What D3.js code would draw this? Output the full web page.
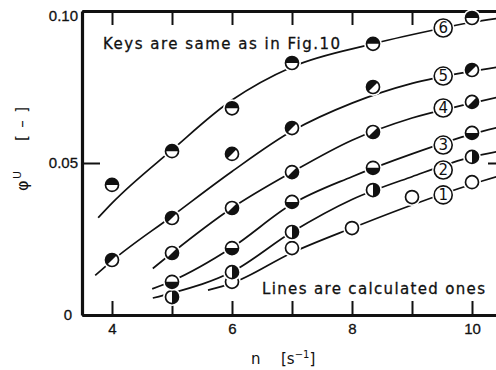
<!DOCTYPE html>
<html><head><meta charset="utf-8">
<script src="https://cdn.jsdelivr.net/npm/d3@7"></script>
<style>
html,body{margin:0;padding:0;background:#fff;}
svg{display:block;font-family:"DejaVu Sans",sans-serif;}
</style></head><body>
<svg id="chart" width="496" height="370"></svg>
<script>
// ---- axis ticks ----
const xTicks = [4, 5, 6, 7, 8, 9, 10];
const xTickLabels = ["4", "", "6", "", "8", "", "10"];
const yTicks = [0, 0.05, 0.10];
const yTickLabels = ["0", "0.05", "0.10"];

// ---- measured points, keys 1..6 ----
const s1N = [6, 7, 8, 9, 10];
const s1V = [0.0109, 0.022, 0.0286, 0.0388, 0.0437];
const s2N = [5, 6, 7, 8.35, 10];
const s2V = [0.0059, 0.0141, 0.0273, 0.0411, 0.052];
const s3N = [5, 6, 7, 8.35, 10];
const s3V = [0.0109, 0.022, 0.0372, 0.0484, 0.0599];
const s4N = [5, 6, 7, 8.35, 10];
const s4V = [0.0204, 0.0352, 0.047, 0.0602, 0.0701];
const s5N = [4, 5, 6, 7, 8.35, 10];
const s5V = [0.0181, 0.0319, 0.053, 0.0615, 0.075, 0.0806];
const s6N = [4, 5, 6, 7, 8.35, 10];
const s6V = [0.0428, 0.0539, 0.068, 0.0829, 0.0892, 0.0977];

// ---- calculated lines ----
const c1N = [5.6, 6, 7, 8, 9, 10, 10.5];
const c1V = [0.0082, 0.0105, 0.0205, 0.0286, 0.0362, 0.0430, 0.046];
const c2N = [4.68, 5, 6, 7, 8, 9, 10, 10.5];
const c2V = [0.0056, 0.0072, 0.0142, 0.0273, 0.038, 0.0455, 0.052, 0.054];
const c3N = [4.67, 5, 6, 7, 8, 9, 10, 10.5];
const c3V = [0.0086, 0.0112, 0.0222, 0.0365, 0.0455, 0.053, 0.0595, 0.062];
const c4N = [4.68, 5, 6, 7, 8, 9, 10, 10.5];
const c4V = [0.0153, 0.0204, 0.0352, 0.047, 0.0575, 0.0648, 0.0697, 0.072];
const c5N = [3.72, 4, 5, 6, 7, 8, 9, 10, 10.5];
const c5V = [0.013, 0.0178, 0.0325, 0.0472, 0.0605, 0.0697, 0.0762, 0.0802, 0.0818];
const c6N = [3.77, 4, 5, 6, 7, 8.35, 9.52, 10, 10.5];
const c6V = [0.032, 0.0368, 0.0543, 0.0707, 0.0816, 0.0892, 0.0944, 0.0963, 0.0978];

// ---- circled key numbers on the lines ----
const keyNames = ["1", "2", "3", "4", "5", "6"];
const keyN = 9.52;
const keyV = [0.0395, 0.0477, 0.0559, 0.0681, 0.0786, 0.0944];

// fill style of each key's symbol
const keyFill = ["open", "right", "bottom", "diagLR", "diagUL", "top"];

const svg = d3.select("#chart");
const x = d3.scaleLinear().domain([3.5, 10.5]).range([82, 502]);
const y = d3.scaleLinear().domain([0, 0.10]).range([315, 11]);

const ink = "#111";

// frame + ticks
const gB = svg.append("g").attr("transform", `translate(0,${y(0)})`)
  .call(d3.axisBottom(x).tickValues(xTicks).tickSizeInner(-14).tickSizeOuter(0)
    .tickPadding(8).tickFormat((d, i) => xTickLabels[i]));
const gT = svg.append("g").attr("transform", `translate(0,${y(0.10)})`)
  .call(d3.axisTop(x).tickValues(xTicks).tickSizeInner(-14).tickSizeOuter(0).tickFormat(""));
const gL = svg.append("g").attr("transform", `translate(${x(3.5)},0)`)
  .call(d3.axisLeft(y).tickValues(yTicks).tickSizeInner(-18).tickSizeOuter(0)
    .tickPadding(4).tickFormat((d, i) => yTickLabels[i]));
const gR = svg.append("g").attr("transform", `translate(${x(10.5)},0)`)
  .call(d3.axisRight(y).tickValues([0.05]).tickSizeInner(-14).tickSizeOuter(0).tickFormat(""));

[gB, gT, gL, gR].forEach(g => {
  g.select(".domain").attr("stroke", ink).attr("stroke-width", 3.2);
  g.selectAll(".tick line").attr("stroke", ink).attr("stroke-width", 2);
  g.selectAll(".tick text").attr("fill", ink).attr("font-size", 15)
    .attr("stroke", ink).attr("stroke-width", 0.3);
});
gL.selectAll(".tick text").filter(d => d === 0).attr("x", -10);
gL.selectAll(".tick text").filter(d => d === 0.10).attr("dy", "0.6em");

// calculated lines
const line = d3.line().x(d => x(d[0])).y(d => y(d[1])).curve(d3.curveMonotoneX);
const curves = [[c1N, c1V], [c2N, c2V], [c3N, c3V], [c4N, c4V], [c5N, c5V], [c6N, c6V]];
svg.append("g").selectAll("path").data(curves).join("path")
  .attr("d", c => line(d3.zip(c[0], c[1])))
  .attr("fill", "none").attr("stroke", ink).attr("stroke-width", 1.7);

// circled key numbers, sitting on the lines
const keys = svg.append("g").selectAll("g").data(keyNames).join("g")
  .attr("transform", (d, i) => `translate(${x(keyN)},${y(keyV[i])})`);
keys.append("circle").attr("r", 11).attr("fill", "#fff");
keys.append("circle").attr("r", 9).attr("fill", "#fff").attr("stroke", ink).attr("stroke-width", 1.6);
keys.append("text").text(d => d).attr("text-anchor", "middle").attr("dy", "0.36em")
  .attr("font-size", 15).attr("fill", ink);

// measured symbols
const halfArc = {
  top: [-Math.PI / 2, Math.PI / 2],
  bottom: [Math.PI / 2, 3 * Math.PI / 2],
  right: [0, Math.PI],
  diagLR: [Math.PI / 4, 5 * Math.PI / 4],
  diagUL: [5 * Math.PI / 4, 9 * Math.PI / 4]
};
const r = 6.5;
const arc = d3.arc().innerRadius(0).outerRadius(r);
const series = [[s1N, s1V], [s2N, s2V], [s3N, s3V], [s4N, s4V], [s5N, s5V], [s6N, s6V]];
series.forEach((s, k) => {
  const pts = d3.zip(s[0], s[1]);
  const g = svg.append("g").selectAll("g").data(pts).join("g")
    .attr("transform", d => `translate(${x(d[0])},${y(d[1])})`);
  g.append("circle").attr("r", r + 2.5).attr("fill", "#fff");
  g.append("circle").attr("r", r).attr("fill", "#fff");
  const h = halfArc[keyFill[k]];
  if (h) g.append("path").attr("d", arc({startAngle: h[0], endAngle: h[1]})).attr("fill", ink);
  g.append("circle").attr("r", r).attr("fill", "none").attr("stroke", ink).attr("stroke-width", 1.7);
});

// annotations
const note = (tx, ty, len, str) => svg.append("text").attr("x", tx).attr("y", ty)
  .attr("font-size", 15).attr("textLength", len).attr("lengthAdjust", "spacing")
  .attr("fill", ink).attr("stroke", ink).attr("stroke-width", 0.3).text(str);
note(103, 49, 237, "Keys are same as in Fig.10");
note(262, 294, 223, "Lines are calculated ones");

// axis titles
svg.append("text").attr("x", 251).attr("y", 364).attr("font-size", 15).attr("fill", ink).text("n");
const xt = svg.append("text").attr("x", 281).attr("y", 364).attr("font-size", 15).attr("fill", ink);
xt.append("tspan").text("[s");
xt.append("tspan").attr("dy", -6).attr("font-size", 10).text("−1");
xt.append("tspan").attr("dy", 6).text("]");

const yt = svg.append("g").attr("transform", "translate(28,191) rotate(-90)");
yt.append("text").attr("x", 0).attr("y", 0).attr("font-size", 16).attr("fill", ink).text("φ");
yt.append("text").attr("x", 12).attr("y", -7).attr("font-size", 11).attr("fill", ink).text("U");
yt.append("text").attr("x", 50).attr("y", -1).attr("font-size", 15).attr("fill", ink)
  .attr("textLength", 34).attr("lengthAdjust", "spacing").text("[ – ]");
</script>
</body></html>
